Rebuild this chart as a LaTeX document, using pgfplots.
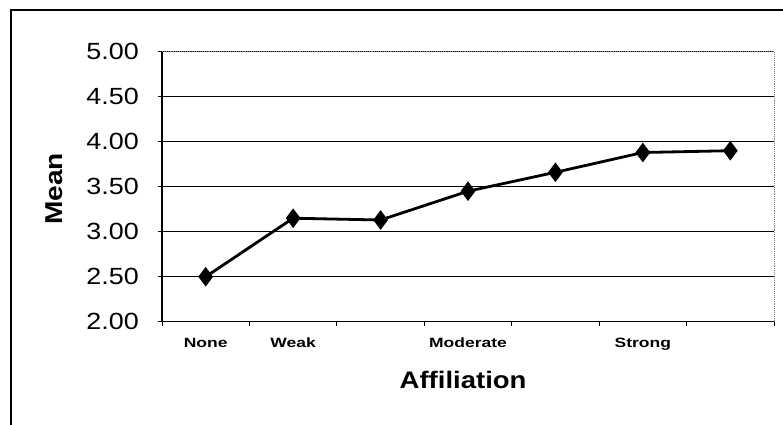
\documentclass[border=0pt]{standalone}
\usepackage{fontspec}
\setmainfont{Liberation Sans}[FakeStretch=1.15]
\newfontfamily\catfont{Liberation Sans}[FakeStretch=1.3]
\usepackage{pgfplots}
\pgfplotsset{compat=1.18}
\begin{document}
\begin{tikzpicture}
\useasboundingbox (0,0) rectangle (783bp,-425bp);
\draw[line width=2.4bp] (11bp,-440bp) -- (11bp,-10bp) -- (800bp,-10bp);
\begin{axis}[
  at={(162bp,-321.7bp)}, anchor=south west,
  scale only axis, width=612bp, height=270bp,
  xmin=-0.5, xmax=6.5, ymin=2, ymax=5,
  axis lines*=left,
  axis line style={-, line width=1.4bp, black},
  tick align=outside,
  major tick length=4bp,
  tick style={black, line width=0.9bp},
  ytick={2,2.5,...,5},
  xtick={-0.5,0.5,...,6.5},
  xticklabels={},
  extra x ticks={0,1,3,5},
  extra x tick labels={None,Weak,Moderate,Strong},
  extra x tick style={major tick length=0pt, tick style={draw=none},
     xticklabel style={font=\catfont\bfseries\fontsize{13.5}{15}\selectfont, anchor=base, inner sep=0pt, yshift=-26bp}},
  ymajorgrids,
  major grid style={black, line width=1bp},
  yticklabel style={font=\fontsize{23.5}{26}\selectfont, anchor=east, inner sep=0pt, xshift=-19bp},
  /pgf/number format/assume math mode=true,
  /pgf/number format/fixed, /pgf/number format/zerofill, /pgf/number format/precision=2,
  xlabel={Affiliation},
  xlabel style={font=\bfseries\fontsize{24}{26}\selectfont, at={(axis description cs:0.492,-0.2456)}, anchor=base, inner sep=0pt},
  ylabel={Mean},
  ylabel style={font=\bfseries\fontsize{24.5}{26}\selectfont, at={(axis description cs:-0.1765,0.4915)}, anchor=center, rotate=0, inner sep=0pt},
  clip=false,
]
\draw[gray, densely dotted, line width=0.9bp] (rel axis cs:0,1) -- (rel axis cs:1,1) -- (rel axis cs:1,0);
\addplot[black, line width=2.8bp, mark=diamond*, mark size=7.5bp, mark options={solid, fill=black}]
  coordinates {(0,2.50) (1,3.15) (2,3.13) (3,3.45) (4,3.66) (5,3.88) (6,3.90)};
\end{axis}
\end{tikzpicture}
\end{document}
